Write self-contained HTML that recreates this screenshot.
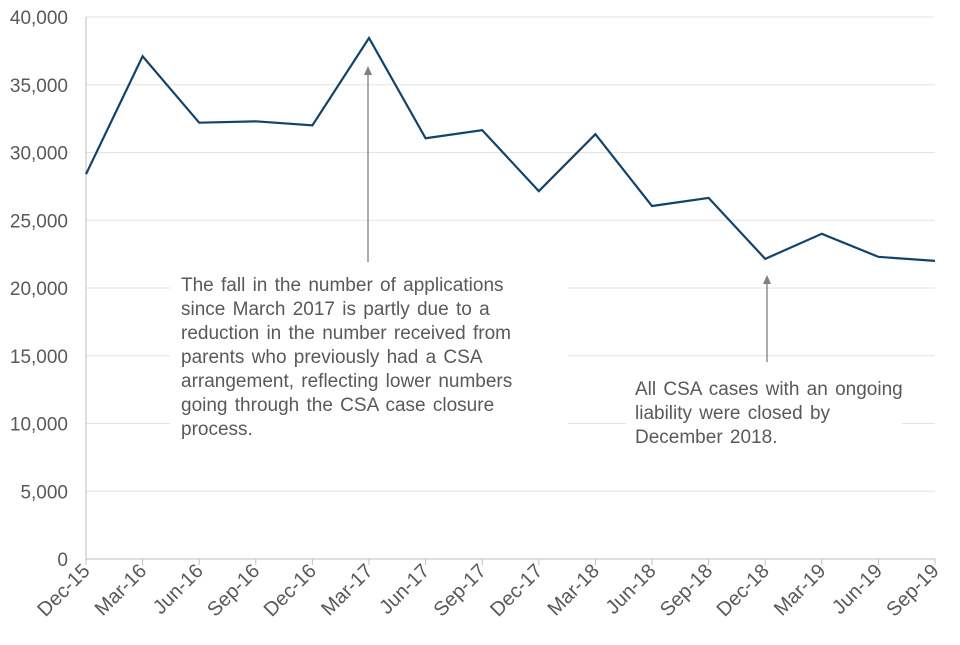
<!DOCTYPE html>
<html><head><meta charset="utf-8"><style>
body{margin:0;background:#fff;}
svg text{font-family:"Liberation Sans",Arial,sans-serif;fill:#595959;}
</style></head><body>
<svg width="960" height="640" id="chart" xmlns="http://www.w3.org/2000/svg"></svg>
<script>
const categories=["Dec-15","Mar-16","Jun-16","Sep-16","Dec-16","Mar-17","Jun-17","Sep-17","Dec-17","Mar-18","Jun-18","Sep-18","Dec-18","Mar-19","Jun-19","Sep-19"];
const values=[28400,37100,32200,32300,32000,38450,31050,31650,27150,31350,26050,26650,22150,24000,22300,22000];
const yTicks=[0,5000,10000,15000,20000,25000,30000,35000,40000];
const NS="http://www.w3.org/2000/svg";
const svg=document.getElementById('chart');
const x0=86,x1=935,y0=559,y1=17,yMax=40000;
function xs(i){return x0+(x1-x0)*i/(categories.length-1);}
function ys(v){return y0-(y0-y1)*v/yMax;}
function mk(t,a,p){const e=document.createElementNS(NS,t);for(const k in a)e.setAttribute(k,a[k]);(p||svg).appendChild(e);return e;}
yTicks.forEach(v=>{
  if(v>0){const g=mk('line',{x1:x0,x2:x1,y1:ys(v),y2:ys(v),stroke:'#e3e3e3','stroke-width':1});
  
  }
  const t=mk('text',{x:68,y:ys(v)+7,'text-anchor':'end','font-size':19});
  t.textContent=v.toLocaleString('en-GB');
  
  
});
const ax=mk('line',{x1:x0,x2:x0,y1:y1,y2:y0,stroke:'#bfbfbf'});


const bx=mk('line',{x1:x0,x2:x1,y1:y0,y2:y0,stroke:'#bfbfbf'});


categories.forEach((c,i)=>{
  const tk=mk('line',{x1:xs(i),x2:xs(i),y1:y0,y2:y0+6,stroke:'#bfbfbf'});
  
  
  const t=mk('text',{x:0,y:0,'text-anchor':'end','font-size':20,transform:`translate(${xs(i)+5},${y0+13}) rotate(-45)`});
  t.textContent=c;
  
  
});
const b1=mk('rect',{x:170,y:268,width:398,height:180,fill:'#fff'});


const b2=mk('rect',{x:626,y:366,width:276,height:116,fill:'#fff'});


const line=mk('polyline',{points:values.map((v,i)=>xs(i)+','+ys(v)).join(' '),fill:'none',stroke:'#12436d','stroke-width':2.2});


function arrow(x,ya,yb,name){
  const l=mk('line',{x1:x,x2:x,y1:yb,y2:ya+8,stroke:'#7f7f7f','stroke-width':1.3});
  
  
  const h=mk('polygon',{points:`${x},${ya} ${x-4},${ya+9} ${x+4},${ya+9}`,fill:'#7f7f7f'});
  
  
}
arrow(368,66,262,'annotation-arrow-1');
arrow(767,275,362,'annotation-arrow-2');
function para(lines,x,y,name){
  const t=mk('text',{x:x,y:y,'font-size':19,'word-spacing':2});
  
  
  lines.forEach((s,i)=>{const sp=mk('tspan',{x:x,y:y+i*24},t);sp.textContent=s;});
}
para(["The fall in the number of applications","since March 2017 is partly due to a","reduction in the number received from","parents who previously had a CSA","arrangement, reflecting lower numbers","going through the CSA case closure","process."],181,291,'annotation-text-1');
para(["All CSA cases with an ongoing","liability were closed by","December 2018."],635,395,'annotation-text-2');
</script>
</body></html>
